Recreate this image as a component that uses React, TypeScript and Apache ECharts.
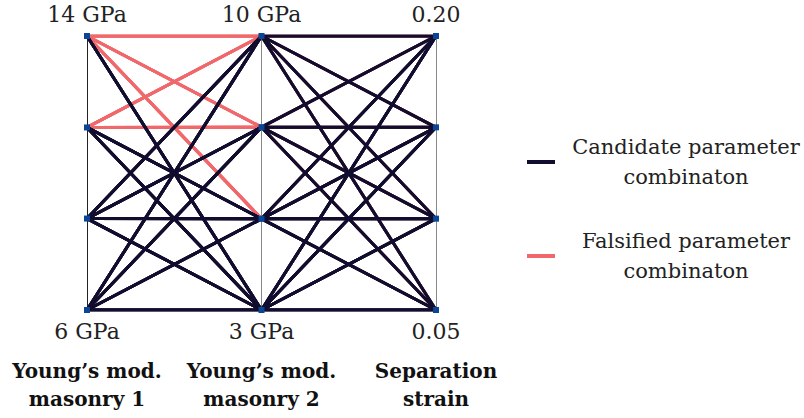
import React, { useEffect, useRef } from "react";
import * as echarts from "echarts";

const AXIS_NAMES = ["Young’s mod.\nmasonry 1", "Young’s mod.\nmasonry 2", "Separation\nstrain"];
const TOP_LABELS = ["14 GPa", "10 GPa", "0.20"];
const BOTTOM_LABELS = ["6 GPa", "3 GPa", "0.05"];

// parameter levels (low -> high)
const E1_LEVELS = [6, 8.67, 11.33, 14];
const E2_LEVELS = [3, 5.33, 7.67, 10];
const STRAIN_LEVELS = [0.05, 0.1, 0.15, 0.2];

// (E1, E2) pairs that were falsified (for every separation strain)
const FALSIFIED_PAIRS = [
  [14, 10],
  [14, 7.67],
  [14, 5.33],
  [11.33, 10],
  [11.33, 7.67],
];

const CANDIDATE_NAME = "Candidate parameter\ncombinaton";
const FALSIFIED_NAME = "Falsified parameter\ncombinaton";

const LEVELS = [E1_LEVELS, E2_LEVELS, STRAIN_LEVELS];

function norm(axis: number, v: number) {
  const lv = LEVELS[axis];
  const mn = lv[0];
  const mx = lv[lv.length - 1];
  return (v - mn) / (mx - mn);
}

export default function App() {
  const ref = useRef<HTMLDivElement>(null);
  useEffect(() => {
    if (!ref.current) return;
    const chart = echarts.init(ref.current, undefined, { renderer: "svg" });
    const falsified: number[][] = [];
    const candidate: number[][] = [];
    for (const e1 of E1_LEVELS) {
      for (const e2 of E2_LEVELS) {
        for (const s of STRAIN_LEVELS) {
          const combo = [e1, e2, s];
          const isF = FALSIFIED_PAIRS.some((p) => p[0] === e1 && p[1] === e2);
          (isF ? falsified : candidate).push(combo);
        }
      }
    }
    const mkLine = (combo: number[], name: string, color: string, z: number) => ({
      type: "line",
      name,
      data: combo.map((v: number, i: number) => [AXIS_NAMES[i], norm(i, v)]),
      symbol: "none",
      lineStyle: { color, width: 3 },
      itemStyle: { color },
      z,
      silent: true,
    });
    const series: any[] = [];
    falsified.forEach((c) => series.push(mkLine(c, FALSIFIED_NAME, "#f0686b", 2)));
    candidate.forEach((c) => series.push(mkLine(c, CANDIDATE_NAME, "#110d2e", 3)));

    const labelStyle = { fontFamily: "DejaVu Serif", fontSize: 22, color: "#222" };
    const markerData: any[] = [];
    LEVELS.forEach((lv, ai) => {
      lv.forEach((v, li) => {
        const item: any = { value: [AXIS_NAMES[ai], norm(ai, v)] };
        if (li === lv.length - 1) {
          item.label = { show: true, position: "top", distance: 8, formatter: TOP_LABELS[ai], ...labelStyle };
        } else if (li === 0) {
          item.label = { show: true, position: "bottom", distance: 7, formatter: BOTTOM_LABELS[ai], ...labelStyle };
        }
        markerData.push(item);
      });
    });
    series.push({
      type: "scatter",
      data: markerData,
      symbol: "rect",
      symbolSize: 6,
      itemStyle: { color: "#0b4596", opacity: 1 },
      z: 5,
      silent: true,
      label: labelStyle,
    });

    chart.setOption({
      animation: false,
      grid: { left: 87, right: 368, top: 36, bottom: 108, containLabel: false },
      xAxis: {
        type: "category",
        data: AXIS_NAMES,
        boundaryGap: false,
        axisLine: { show: false },
        axisTick: { show: false },
        splitLine: { show: true, interval: 0, lineStyle: { color: ["#222", "#888", "#888"], width: 1 } },
        axisLabel: {
          interval: 0,
          margin: 47,
          fontFamily: "DejaVu Serif",
          fontWeight: "bold",
          fontSize: 20,
          lineHeight: 28,
          color: "#111",
        },
      },
      yAxis: { type: "value", min: 0, max: 1, show: false },
      legend: {
        data: [CANDIDATE_NAME, FALSIFIED_NAME],
        orient: "vertical",
        left: 522,
        top: 127,
        itemWidth: 28,
        itemHeight: 4,
        itemGap: 34,
        icon: "rect",
        selectedMode: false,
        formatter: (name: string) =>
          name
            .split("\n")
            .map((l) => `{a|${l}}`)
            .join("\n"),
        textStyle: {
          fontFamily: "DejaVu Serif",
          fontSize: 21,
          color: "#222",
          lineHeight: 30,
          rich: { a: { width: 252, align: "center", fontFamily: "DejaVu Serif", fontSize: 21, lineHeight: 30, color: "#222" } },
        },
      },
      series,
    });
    return () => chart.dispose();
  }, []);
  return (
    <div
      ref={ref}
      style={{ position: "absolute", left: 0, top: 0, width: 804, height: 418, background: "#fff" }}
    />
  );
}
